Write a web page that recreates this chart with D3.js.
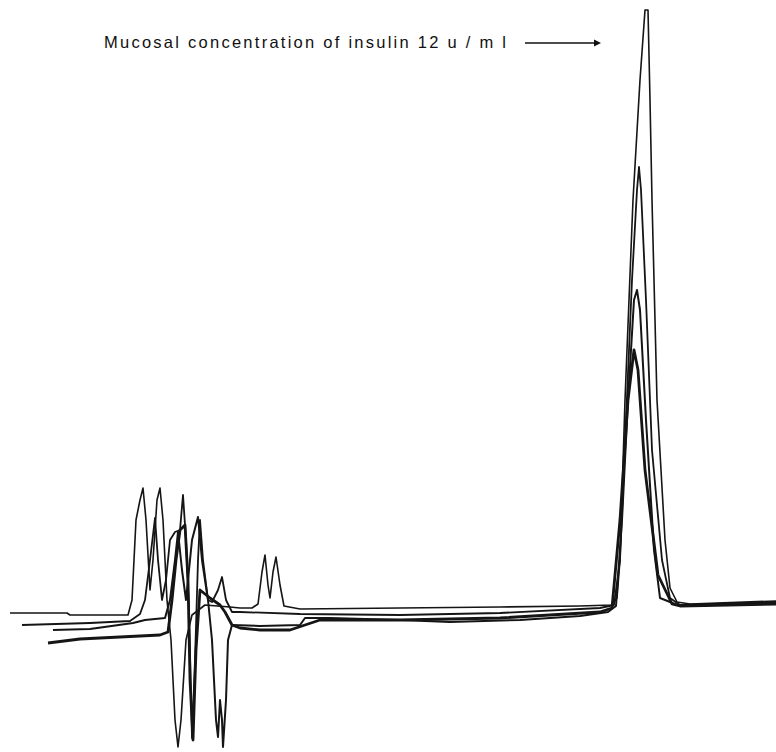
<!DOCTYPE html>
<meta charset="utf-8">
<script src="https://d3js.org/d3.v7.min.js"></script>
<style>
  body { margin: 0; background: #fff; }
</style>
<div id="chart"></div>
<script>

// retention time (min) and detector signal (mV) of four overlaid runs
var timeA = [0.5,3.35,3.5,6.4,6.6,6.8,7.0,7.15,7.3,7.5,7.65,7.85,8.0,8.15,8.35,8.55,8.75,8.9,9.05,9.3,
             9.6,10.25,11.5,12.0,12.6,12.9,13.1,13.25,13.4,13.5,13.65,13.8,14.0,14.2,15.0,20.0,25.0,29.0,
             30.6,30.85,31.0,31.25,31.65,32.0,32.25,32.4,32.5,32.6,32.85,33.25,33.5,33.85,34.5,38.8];
var signalA = [-5,-5,-7,-7,8,88,108,120,88,18,48,108,120,88,8,-32,-112,-139,-112,-32,
               -7,3,1,0,0,4,36,53,23,10,36,51,23,2,-1,0,1,2,
               3,10,48,208,408,528,598,598,508,408,208,68,20,6,4,7];

var timeB = [1.1,4.5,6.5,7.0,7.25,7.5,7.75,7.9,8.1,8.3,8.5,8.75,9.0,9.15,9.3,9.45,9.6,9.75,9.9,10.0,
             10.15,10.4,10.6,10.9,11.1,11.3,11.6,12.0,15.0,20.0,25.0,30.0,30.7,31.0,31.3,31.6,31.85,31.95,32.05,32.3,
             32.6,33.1,33.5,34.0,38.8];
var signalB = [-17,-15,-13,-6,8,48,90,48,8,28,68,76,78,113,68,-2,-130,-52,48,88,
               48,8,6,18,31,8,-4,-4,-6,-7,-5,0,3,48,188,328,418,441,418,308,
               158,48,10,3,6];

var timeC = [2.65,4.5,6.65,7.25,8.25,8.5,8.75,8.9,9.1,9.3,9.6,9.9,10.1,10.4,10.6,10.8,10.9,11.0,11.1,11.15,
             11.3,11.4,11.6,13.0,15.0,15.25,16.5,20.0,22.5,26.0,29.0,30.4,30.8,31.1,31.4,31.7,31.85,32.0,32.3,32.7,
             33.0,34.0,38.8];
var signalC = [-22,-21,-15,-12,-10,8,48,76,38,8,68,91,48,8,-32,-112,-129,-92,-112,-139,
               -92,-32,-17,-18,-17,-10,-10,-12,-14,-12,-8,-4,2,88,208,308,318,298,188,58,
               10,2,5];

var timeD = [2.4,4.0,8.0,8.4,8.6,8.8,9.0,9.25,9.4,9.5,9.65,9.8,10.0,10.5,11.0,11.25,11.6,12.0,13.0,14.5,
             15.25,16.0,20.0,25.0,30.0,30.6,31.0,31.4,31.7,31.9,32.25,32.9,33.6,34.0,38.8];
var signalD = [-35,-31,-27,-24,8,48,78,83,28,-72,-132,-42,18,10,3,-4,-17,-20,-22,-22,
               -17,-12,-12,-10,-4,0,88,208,258,238,138,33,4,2,4];

var runs = [
  {t: timeA, s: signalA, w: 1.6},
  {t: timeB, s: signalB, w: 1.8},
  {t: timeC, s: signalC, w: 2.0},
  {t: timeD, s: signalD, w: 2.8}
];

var label = "Mucosal concentration of insulin 12 u / m l";

var width = 776, height = 752;

var svg = d3.select("#chart")
  .append("svg")
    .attr("width", width)
    .attr("height", height);

// no axes drawn in the original trace
var x = d3.scaleLinear().domain([0, 38.8]).range([0, width]);
var y = d3.scaleLinear().domain([-144, 598]).range([752, 10]);

var line = d3.line()
  .x(function(d) { return x(d[0]); })
  .y(function(d) { return y(d[1]); });

svg.append("g")
  .selectAll("path")
  .data(runs)
  .enter()
  .append("path")
    .attr("d", function(r) { return line(d3.zip(r.t, r.s)); })
    .attr("fill", "none")
    .attr("stroke", "#151515")
    .attr("stroke-width", function(r) { return r.w; })
    .attr("stroke-linejoin", "round");

// annotation with arrow
svg.append("text")
    .attr("x", 104)
    .attr("y", 48)
    .attr("textLength", 402)
    .attr("lengthAdjust", "spacing")
    .style("font-family", "'Liberation Sans', Arial, sans-serif")
    .style("font-size", "16.5px")
    .style("fill", "#111")
    .text(label);

svg.append("line")
    .attr("x1", 525).attr("x2", 596)
    .attr("y1", 43).attr("y2", 43)
    .attr("stroke", "#111")
    .attr("stroke-width", 1.5);

svg.append("path")
    .attr("d", "M594,39.5 L601,43 L594,46.5 Z")
    .attr("fill", "#111");

</script>
